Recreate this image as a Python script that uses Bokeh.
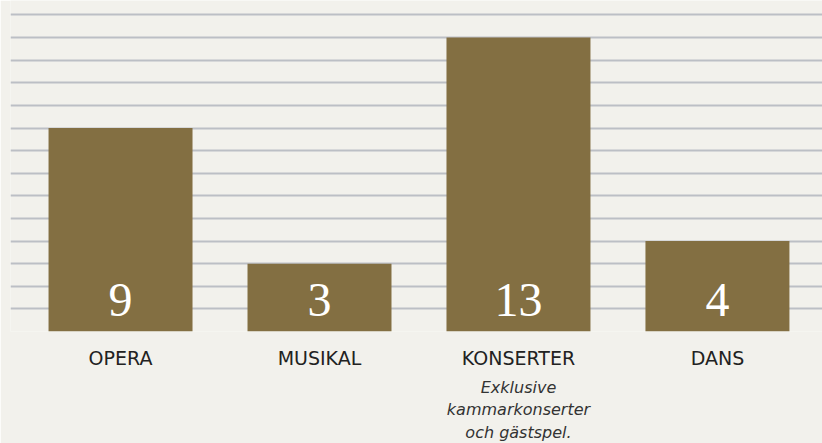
from bokeh.plotting import figure
from bokeh.models import Range1d, LinearAxis, FixedTicker, ColumnDataSource
from bokeh.core.properties import value
from bokeh.embed import file_html
from bokeh.resources import INLINE

categories = ["OPERA", "MUSIKAL", "KONSERTER", "DANS"]
counts = [9, 3, 13, 4]
notes = ["", "", "Exklusive\nkammarkonserter\noch gästspel.", ""]
grid_values = list(range(0, 15))

BG = "#f2f1ec"
BAR = "#836f42"
GRID = "#bcbfc5"

xs = list(range(len(categories)))
src = ColumnDataSource(dict(x=xs, top=counts, label=[str(c) for c in counts],
                            ly=[1.4] * len(counts)))

p = figure(frame_width=812, frame_height=331, output_backend="svg",
           toolbar_location=None,
           x_range=Range1d(-0.553, 3.528), y_range=Range1d(0, 14.64),
           min_border_left=10, min_border_right=0, min_border_top=0,
           min_border_bottom=112, x_axis_location=None)
p.background_fill_color = BG
p.border_fill_color = BG
p.outline_line_color = None
p.yaxis.visible = False
p.xgrid.visible = False
p.ygrid.ticker = FixedTicker(ticks=grid_values)
p.ygrid.grid_line_color = GRID
p.ygrid.grid_line_width = 2

p.vbar(x="x", top="top", bottom=0, width=144 / 199, source=src,
       fill_color=BAR, line_color=None)
p.text(x="x", y="ly", text="label", source=src, text_align="center",
       text_baseline="middle", text_color="white",
       text_font=value("Liberation Serif"), text_font_size="48px")

ax1 = LinearAxis(ticker=FixedTicker(ticks=xs),
                 major_label_overrides={i: c for i, c in enumerate(categories)})
ax2 = LinearAxis(ticker=FixedTicker(ticks=xs),
                 major_label_overrides={i: n for i, n in enumerate(notes)})
for ax in (ax1, ax2):
    ax.axis_line_color = None
    ax.major_tick_line_color = None
    ax.minor_tick_line_color = None
    ax.major_tick_in = 0
    ax.major_tick_out = 0
    ax.major_label_text_font = "DejaVu Sans"
ax1.major_label_text_font_size = "19px"
ax1.major_label_text_color = "#222222"
ax1.major_label_standoff = 15
ax2.major_label_text_font_size = "16px"
ax2.major_label_text_color = "#333333"
ax2.major_label_text_font_style = "italic"
ax2.major_label_standoff = 6
p.add_layout(ax1, "below")
p.add_layout(ax2, "below")

open("out.html", "w").write(file_html(p, INLINE))
